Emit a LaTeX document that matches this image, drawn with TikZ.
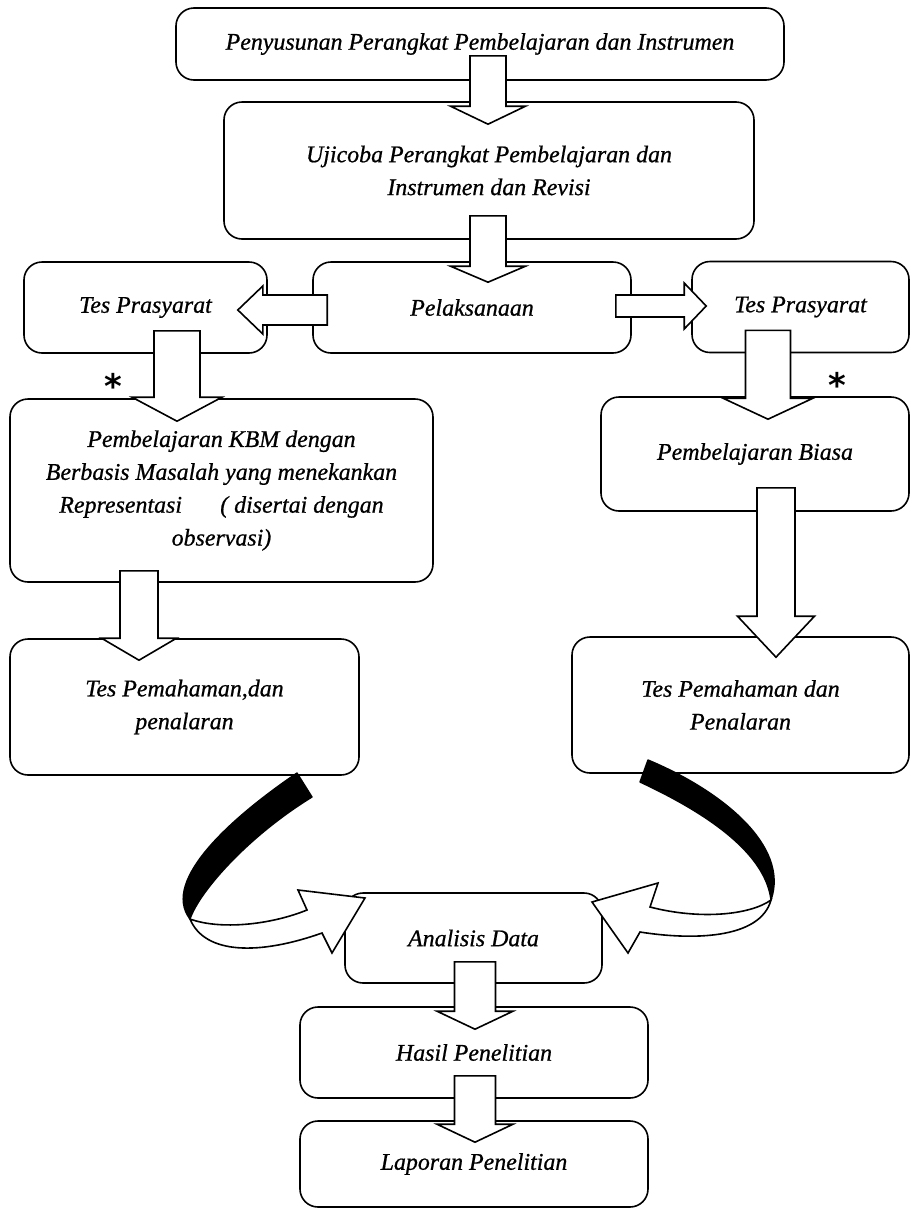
\documentclass[tikz,border=0pt]{standalone}
\usepackage{fontspec}
\setmainfont{Liberation Serif}[ItalicFeatures={FakeBold=0.7}]
\newfontfamily\starfont{DejaVu Sans}
\usetikzlibrary{calc}
\tikzset{
  box/.style={draw, line width=1.6bp, rounded corners=18bp, fill=white, align=center,
    inner sep=0pt, font=\fontsize{24}{33}\selectfont\itshape},
  blk/.style={draw, line width=1.6bp, fill=white, line join=miter},
  ribbonb/.style={draw, line width=1.4bp, fill=black, line join=round},
  ribbonw/.style={draw, line width=1.6bp, fill=white, line join=miter},
  astr/.style={font=\fontsize{34}{34}\selectfont\starfont\bfseries, inner sep=0pt}
}
% block arrow pointing down: start, tip, shaft half width, head half width, head length
\newcommand{\bdown}[5]{%
  \draw[blk] let \p1=(#1), \p2=(#2) in
    (\x1-#3bp,\y1) -- (\x1+#3bp,\y1) -- (\x1+#3bp,\y2+#5bp) -- (\x1+#4bp,\y2+#5bp)
    -- (\x1,\y2) -- (\x1-#4bp,\y2+#5bp) -- (\x1-#3bp,\y2+#5bp) -- cycle;}
% block arrow pointing left
\newcommand{\bleft}[5]{%
  \draw[blk] let \p1=(#1), \p2=(#2) in
    (\x1,\y1+#3bp) -- (\x2+#5bp,\y1+#3bp) -- (\x2+#5bp,\y1+#4bp) -- (\x2,\y1)
    -- (\x2+#5bp,\y1-#4bp) -- (\x2+#5bp,\y1-#3bp) -- (\x1,\y1-#3bp) -- cycle;}
% block arrow pointing right
\newcommand{\bright}[5]{%
  \draw[blk] let \p1=(#1), \p2=(#2) in
    (\x1,\y1+#3bp) -- (\x2-#5bp,\y1+#3bp) -- (\x2-#5bp,\y1+#4bp) -- (\x2,\y1)
    -- (\x2-#5bp,\y1-#4bp) -- (\x2-#5bp,\y1-#3bp) -- (\x1,\y1-#3bp) -- cycle;}
\begin{document}
\begin{tikzpicture}[x=1bp,y=-1bp]
\useasboundingbox (0,0) rectangle (911,1209);
% boxes
\node[box, minimum width=608bp, minimum height=72bp] (top) at (480,44)
  {Penyusunan Perangkat Pembelajaran dan Instrumen};
\node[box, minimum width=530bp, minimum height=137bp] (uji) at (489,170.5)
  {Ujicoba Perangkat Pembelajaran dan\\Instrumen dan Revisi};
\node[box, minimum width=243bp, minimum height=91bp] (tpL) at (145.5,307.5) {Tes Prasyarat};
\node[box, minimum width=318bp, minimum height=91bp] (pel) at (472,307.5) {Pelaksanaan};
\node[box, minimum width=217bp, minimum height=91bp] (tpR) at (800.5,307) {Tes Prasyarat};
\node[box, minimum width=423bp, minimum height=183bp] (kbm) at (221.5,490.5)
  {Pembelajaran KBM dengan\\Berbasis Masalah yang menekankan\\Representasi\hspace{1.6em}( disertai dengan\\observasi)};
\node[box, minimum width=308bp, minimum height=114bp] (biasa) at (755,454) {Pembelajaran Biasa};
\node[box, minimum width=349bp, minimum height=136bp] (tpmL) at (184.5,707)
  {Tes Pemahaman,dan\\penalaran};
\node[box, minimum width=337bp, minimum height=136bp] (tpmR) at (740.5,705)
  {Tes Pemahaman dan\\Penalaran};
\node[box, minimum width=257bp, minimum height=90bp] (ana) at (473.5,938) {Analisis Data};
\node[box, minimum width=348bp, minimum height=91bp] (hasil) at (474,1052.5) {Hasil Penelitian};
\node[box, minimum width=348bp, minimum height=86bp] (lap) at (474,1164) {Laporan Penelitian};
% block arrows
\bdown{$(top.south)+(8,-25)$}{$(uji.north)+(0,23)$}{18}{37.5}{18}
\bdown{$(uji.south)+(-1,-24)$}{$(pel.north)+(0,21)$}{18}{37.5}{16}
\bdown{$(tpL.south)+(31.5,-23)$}{$(kbm.north)+(0,23)$}{23}{45}{24}
\bdown{$(tpR.south)+(-32.5,-23)$}{$(biasa.north)+(0,23)$}{22.5}{45}{21}
\bdown{$(kbm.south)+(-82.5,-12)$}{$(tpmL.north)+(0,22)$}{19}{37.5}{22}
\bdown{$(biasa.south)+(21,-24)$}{$(tpmR.north)+(0,21)$}{19}{38.5}{41}
\bdown{$(ana.south)+(1.5,-22)$}{$(hasil.north)+(0,23)$}{20.5}{38}{18}
\bdown{$(hasil.south)+(1,-23)$}{$(lap.north)+(0,22)$}{20.5}{38}{18}
\bleft{$(pel.west)+(15,2.5)$}{$(tpL.east)+(-30,0)$}{15}{24}{25}
\bright{$(pel.east)+(-16,-1.5)$}{$(tpR.west)+(15,0)$}{11}{23}{22}
% stars
\node[astr] (st1) at (113,386) {*};
\node[astr] (st2) at (837,385) {*};
% left curved arrow
\draw[ribbonb] (297,773) .. controls (235,815) and (160,880) .. (190,919)
  .. controls (200,890) and (250,835) .. (312,797) -- cycle;
\draw[ribbonw] (190,919) .. controls (205,955) and (260,955) .. (322,933)
  -- (332,953) -- (365,898) -- (298,890) -- (307,910)
  .. controls (270,925) and (220,930) .. (190,919) -- cycle;
% right curved arrow
\draw[ribbonb] (648,760) .. controls (720,790) and (790,845) .. (771,900)
  .. controls (765,850) and (700,810) .. (640,782) -- cycle;
\draw[ribbonw] (771,900) .. controls (760,940) and (690,940) .. (640,932)
  -- (628,953) -- (592,902) -- (658,883) -- (650,907)
  .. controls (700,920) and (750,915) .. (771,900) -- cycle;
\end{tikzpicture}
\end{document}
